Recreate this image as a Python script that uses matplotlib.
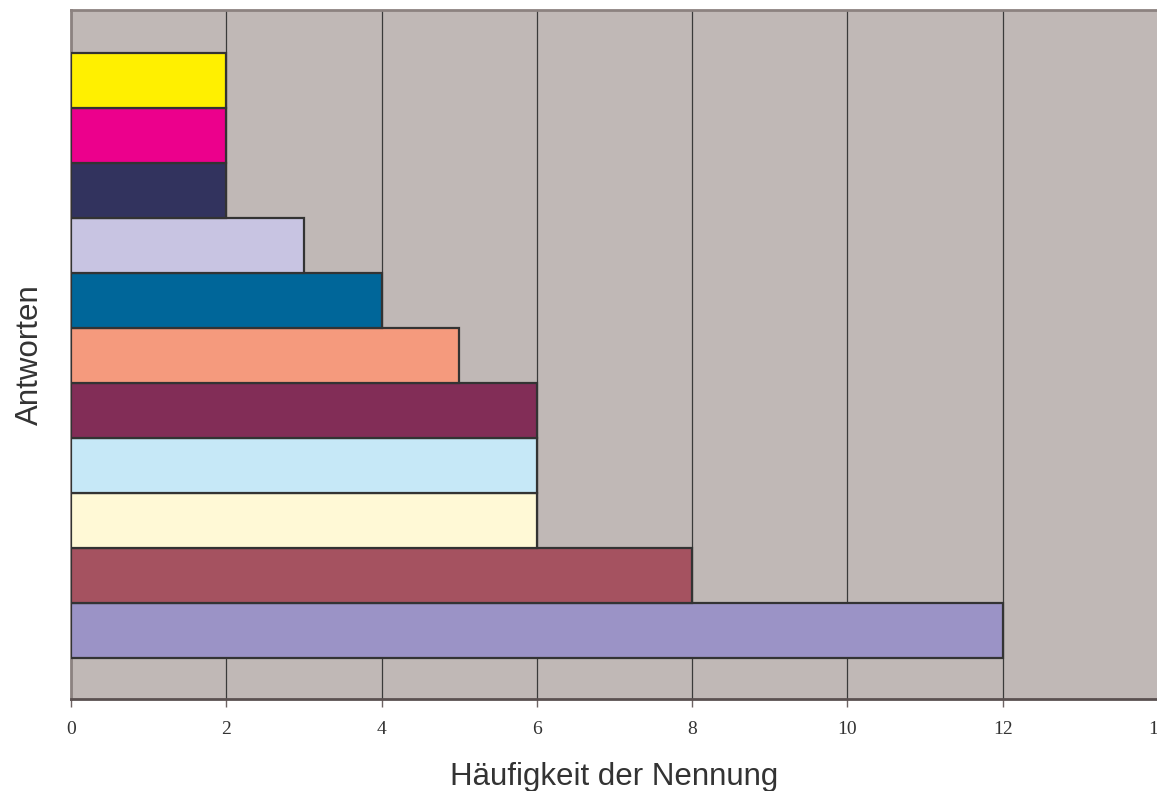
#!/usr/bin/env python3
# -*- coding: utf-8 -*-

import numpy as np
import matplotlib
matplotlib.use("Agg")
import matplotlib.pyplot as plt

# bars listed from bottom to top
answers = ["A1", "A2", "A3", "A4", "A5", "A6", "A7", "A8", "A9", "A10", "A11"]
counts = [12, 8, 6, 6, 6, 5, 4, 3, 2, 2, 2]
colors = ["#9B93C6", "#A55260", "#FFF9D6", "#C6E8F7", "#822D57", "#F59A7D",
          "#006699", "#C8C4E2", "#32335E", "#EC008C", "#FFF000"]
xticks = [0, 2, 4, 6, 8, 10, 12, 14]


def main() -> None:
    fig = plt.figure(figsize=(11.57, 7.91), dpi=100)
    ax = fig.add_axes([71 / 1157, 92 / 791, 1087 / 1157, 689 / 791])
    ax.set_facecolor("#C0B8B6")

    y = np.arange(len(answers))
    ax.barh(y, counts, height=1.0, color=colors, edgecolor="#333333",
            linewidth=1.6, zorder=3)

    ax.set_xlim(0, 14)
    ax.set_ylim(-1.25, len(answers) - 1 + 1.28)
    ax.set_yticks([])
    ax.set_xticks(xticks)
    ax.set_xticklabels([str(t) for t in xticks], family="Liberation Serif",
                       fontsize=14, color="#333333")
    ax.tick_params(axis="x", direction="out", length=6, width=1,
                   color="#6e6464", pad=10)
    ax.grid(True, axis="x", color="#3a3a3a", linewidth=0.9, zorder=1)

    for side in ("top", "left"):
        ax.spines[side].set_color("#8c8280")
        ax.spines[side].set_linewidth(2)
    ax.spines["bottom"].set_color("#5a5050")
    ax.spines["bottom"].set_linewidth(2)
    ax.spines["right"].set_visible(False)

    ax.set_xlabel("Häufigkeit der Nennung", family="Liberation Sans",
                  fontsize=22.5, color="#333333", labelpad=17)
    ax.set_ylabel("Antworten", family="Liberation Sans", fontsize=22.5,
                  color="#333333", labelpad=19)

    fig.savefig("out.png", dpi=100)
    plt.close(fig)


if __name__ == "__main__":
    main()
